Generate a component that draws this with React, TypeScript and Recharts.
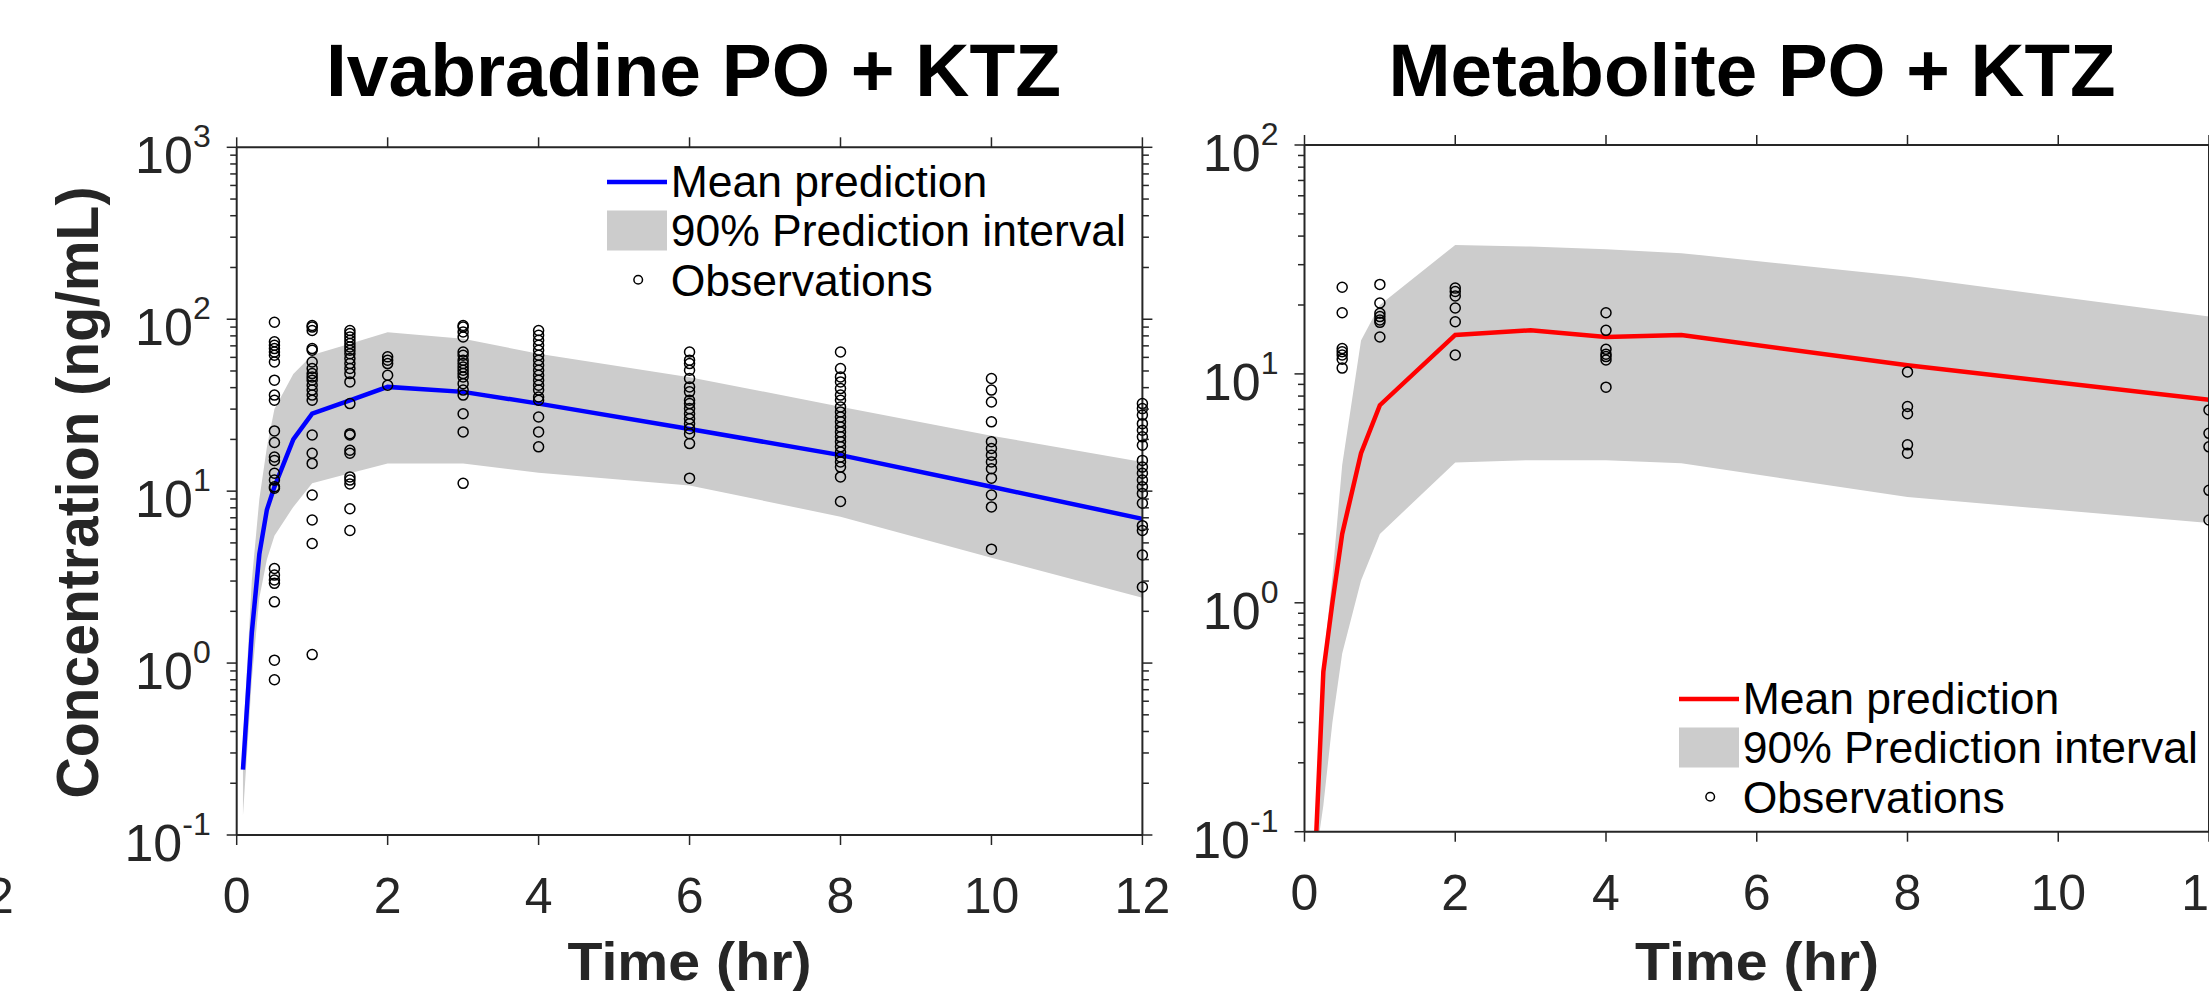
import React from 'react';
import { ComposedChart, Line, Area, Scatter, XAxis, YAxis, Legend } from 'recharts';

const FONT = '"Liberation Sans", Arial, Helvetica, sans-serif';
const INK = '#262626';
const BAND = '#cccccc';

// ---------- text ----------
const ivaTitle = 'Ivabradine PO + KTZ';
const metTitle = 'Metabolite PO + KTZ';
const xLabel = 'Time (hr)';
const yLabel = 'Concentration (ng/mL)';
const legendNames = ['Mean prediction', '90% Prediction interval', 'Observations'];

// ---------- ticks ----------
const xTicks = [0, 2, 4, 6, 8, 10, 12];
const ivaYMajor = [0.1, 1, 10, 100, 1000];
const metYMajor = [0.1, 1, 10, 100];

// ---------- Ivabradine (left panel) ----------
const ivaTimes = [0.083, 0.2, 0.3, 0.4, 0.5, 0.75, 1, 1.5, 2, 3, 4, 6, 8, 10, 12];
const ivaMean = [0.24, 1.5, 4.3, 7.8, 10.6, 20, 28.2, 33.7, 40.4, 37.8, 32.3, 23, 16.2, 10.6, 6.9];
const ivaLower = [0.13, 0.8, 2.4, 4.0, 5.5, 8.1, 11.1, 12.7, 14.5, 14.5, 12.8, 10.8, 7.1, 4.1, 2.4];
const ivaUpper = [0.35, 3, 9, 18, 30, 48, 62, 72, 84, 77, 63, 46, 31, 21, 14.8];

const ivaObsTimes = [0.5, 1, 1.5, 2, 3, 4, 6, 8, 10, 12];
const ivaObsValues = [
  [96, 74, 70.6, 67.5, 64.5, 61.7, 56.4, 44.2, 36.2, 33.8, 22.4, 19.2, 15.8, 15.1, 12.7, 11.6, 10.6, 10.4, 3.55, 3.25, 3.04, 2.91, 2.27, 1.04, 0.8],
  [92, 90, 86, 67.5, 66, 56.4, 51.7, 48.3, 46.2, 44.2, 41.3, 38.7, 36.2, 33.8, 21.2, 16.6, 14.5, 9.5, 6.8, 4.96, 1.12],
  [86, 82.6, 78.9, 75.5, 72.2, 69, 66, 63, 59, 55.2, 51.7, 48.3, 43.2, 32.3, 21.6, 21.2, 17.3, 16.6, 12.1, 11.6, 11.0, 7.9, 5.9],
  [60.4, 57.8, 55.2, 47.2, 41.3],
  [92, 90, 84.4, 78.9, 64.5, 61.7, 57.8, 55.2, 52.7, 50.5, 48.3, 46.2, 42.2, 38.7, 36.2, 28.2, 22.1, 11.1],
  [86, 80.7, 75.5, 70.6, 66, 61.7, 57.8, 54, 50.5, 47.2, 44.2, 41.3, 38.7, 35.3, 33.8, 27, 22.1, 18.1],
  [64.5, 57.8, 55.2, 50.5, 45.2, 40.4, 37.8, 33.8, 32.3, 30.2, 28.2, 26.4, 24.7, 23.1, 21.6, 18.9, 11.9],
  [64.5, 51.7, 46.2, 43.2, 39.5, 36.2, 33.8, 30.9, 28.9, 27, 25.3, 23.6, 22.1, 20.7, 19.4, 18.1, 16.9, 15.8, 14.8, 13.8, 12.1, 8.7],
  [45.2, 38.7, 33, 25.3, 19.4, 17.7, 16.2, 14.8, 13.5, 11.9, 9.5, 8.1, 4.6],
  [32.3, 30.2, 27.7, 24.7, 22.6, 20.7, 18.5, 15.1, 13.8, 12.7, 11.6, 10.6, 9.7, 8.5, 6.3, 5.9, 4.25, 2.77],
];

// ---------- Metabolite (right panel) ----------
const metTimes = [0.157, 0.2, 0.25, 0.37, 0.5, 0.75, 1, 2, 3, 4, 5, 8, 12];
const metMean = [0.1, 0.21, 0.5, 1.0, 2.0, 4.5, 7.3, 14.8, 15.5, 14.5, 14.8, 10.9, 7.7];
const metLower = [0.1, 0.1, 0.13, 0.3, 0.6, 1.25, 2.0, 4.1, 4.2, 4.2, 4.07, 2.9, 2.23];
const metUpper = [0.1, 0.22, 0.55, 1.3, 4, 14, 20, 36.6, 36, 35, 33.7, 26.6, 17.8];

const metObsTimes = [0.5, 1, 2, 4, 8, 12];
const metObsValues = [
  [23.9, 18.5, 12.9, 12.5, 12.1, 11.6, 10.6],
  [24.6, 20.4, 18.4, 17.8, 17.2, 16.8, 14.5],
  [23.7, 22.9, 21.9, 19.4, 16.9, 12.1],
  [18.5, 15.5, 12.8, 12.2, 11.9, 11.5, 8.75],
  [10.2, 7.2, 6.7, 4.9, 4.5],
  [6.96, 5.5, 4.8, 3.1, 2.3],
];

// ---------- derived tables ----------
function withMinors(majors: number[]) {
  const out: number[] = [];
  majors.forEach((m, i) => {
    out.push(m);
    if (i < majors.length - 1) {
      for (let k = 2; k <= 9; k++) out.push(Number((m * k).toPrecision(3)));
    }
  });
  return out;
}

const buildCurve = (times: number[], mean: number[], lo: number[], hi: number[]) =>
  times.map((t, i) => ({ t, mean: mean[i], band: [lo[i], hi[i]] }));
const buildObs = (times: number[], values: number[][]) =>
  times.flatMap((t, i) => values[i].map((v) => ({ t, v })));

const ivaCurve = buildCurve(ivaTimes, ivaMean, ivaLower, ivaUpper);
const ivaObs = buildObs(ivaObsTimes, ivaObsValues);
const metCurve = buildCurve(metTimes, metMean, metLower, metUpper);
const metObs = buildObs(metObsTimes, metObsValues);

// ---------- tick renderers ----------
const isMajor = (v: number) => {
  const l = Math.log10(v);
  return Math.abs(l - Math.round(l)) < 1e-6;
};

const LeftYTick = (props: any) => {
  const { x, y, payload } = props;
  const v = payload.value;
  const major = isMajor(v);
  const len = major ? 10 : 6.5;
  const exp = Math.round(Math.log10(v));
  return (
    <g>
      <line x1={x - len} x2={x} y1={y} y2={y} stroke={INK} strokeWidth={1.5} />
      {major && (
        <text x={x - 26} y={y + 26} textAnchor="end" fontFamily={FONT} fontSize={52} fill={INK}>
          10
          <tspan dy={-26} fontSize={32}>
            {String(exp)}
          </tspan>
        </text>
      )}
    </g>
  );
};

const RightYTick = (props: any) => {
  const { x, y, payload } = props;
  const len = isMajor(payload.value) ? 10 : 6.5;
  return <line x1={x} x2={x + len} y1={y} y2={y} stroke={INK} strokeWidth={1.5} />;
};

const BottomXTick = (props: any) => {
  const { x, y, payload } = props;
  return (
    <g>
      <line x1={x} x2={x} y1={y} y2={y + 10} stroke={INK} strokeWidth={1.5} />
      <text x={x} y={y + 78} textAnchor="middle" fontFamily={FONT} fontSize={50} fill={INK}>
        {String(payload.value)}
      </text>
    </g>
  );
};

const TopXTick = (props: any) => {
  const { x, y } = props;
  return <line x1={x} x2={x} y1={y} y2={y - 10} stroke={INK} strokeWidth={1.5} />;
};

const ObsShape = (props: any) => (
  <circle cx={props.cx} cy={props.cy} r={5} fill="none" stroke="#000" strokeWidth={1.5} />
);

// ---------- legend ----------
const makeLegend = (color: string) => () => (
  <svg width={560} height={170} style={{ overflow: 'visible', display: 'block' }}>
    <line x1={10} x2={70} y1={40} y2={40} stroke={color} strokeWidth={4.5} />
    <text x={73.7} y={55} fontFamily={FONT} fontSize={44.5} fill="#000">{legendNames[0]}</text>
    <rect x={10} y={68.5} width={60} height={40} fill={BAND} />
    <text x={73.7} y={103.5} fontFamily={FONT} fontSize={44.5} fill="#000">{legendNames[1]}</text>
    <circle cx={41.2} cy={137.7} r={4.3} fill="none" stroke="#000" strokeWidth={1.5} />
    <text x={73.7} y={153.5} fontFamily={FONT} fontSize={44.5} fill="#000">{legendNames[2]}</text>
  </svg>
);

type PanelProps = {
  left: number;
  width: number;
  yAxisWidth: number;
  margin: { top: number; right: number; bottom: number; left: number };
  curve: { t: number; mean: number; band: number[] }[];
  obs: { t: number; v: number }[];
  color: string;
  yDomain: [number, number];
  yTicks: number[];
  legendX0: number;
  legendY0: number;
};

const H = 992;
const axisLine = { stroke: INK, strokeWidth: 2 };

function Panel(p: PanelProps) {
  return (
    <div style={{ position: 'absolute', left: p.left, top: 0, width: p.width, height: H }}>
      <ComposedChart width={p.width} height={H} margin={p.margin} data={p.curve}>
        <XAxis
          xAxisId="x"
          type="number"
          dataKey="t"
          domain={[0, 12]}
          ticks={xTicks}
          interval={0}
          height={100}
          tickSize={0}
          tickMargin={0}
          tickLine={false}
          tick={BottomXTick}
          axisLine={axisLine}
        />
        <XAxis
          xAxisId="top"
          orientation="top"
          type="number"
          dataKey="t"
          domain={[0, 12]}
          allowDataOverflow
          ticks={xTicks}
          interval={0}
          height={20}
          tickSize={0}
          tickMargin={0}
          tickLine={false}
          tick={TopXTick}
          axisLine={axisLine}
        />
        <YAxis
          yAxisId="y"
          type="number"
          scale="log"
          domain={p.yDomain}
          ticks={p.yTicks}
          interval={0}
          width={p.yAxisWidth}
          tickSize={0}
          tickMargin={0}
          tickLine={false}
          tick={LeftYTick}
          axisLine={axisLine}
        />
        <YAxis
          yAxisId="right"
          orientation="right"
          type="number"
          scale="log"
          domain={p.yDomain}
          allowDataOverflow
          ticks={p.yTicks}
          interval={0}
          width={20}
          tickSize={0}
          tickMargin={0}
          tickLine={false}
          tick={RightYTick}
          axisLine={axisLine}
        />
        <Area
          xAxisId="x"
          yAxisId="y"
          name={legendNames[1]}
          type="linear"
          dataKey="band"
          stroke="none"
          fill={BAND}
          fillOpacity={1}
          dot={false}
          activeDot={false}
          isAnimationActive={false}
        />
        <Line
          xAxisId="x"
          yAxisId="y"
          name={legendNames[0]}
          type="linear"
          dataKey="mean"
          stroke={p.color}
          strokeWidth={4.5}
          dot={false}
          activeDot={false}
          isAnimationActive={false}
        />
        <Scatter
          xAxisId="x"
          yAxisId="y"
          name={legendNames[2]}
          data={p.obs}
          dataKey="v"
          shape={ObsShape}
          isAnimationActive={false}
        />
        <Legend
          layout="horizontal"
          verticalAlign="middle"
          align="center"
          content={makeLegend(p.color)}
          wrapperStyle={{
            position: 'absolute',
            left: p.legendX0 - 10 - p.left,
            top: p.legendY0 - 40,
            width: 560,
            height: 170,
            pointerEvents: 'none',
          }}
        />
      </ComposedChart>
    </div>
  );
}

export default function App() {
  return (
    <div
      style={{
        position: 'absolute',
        left: 0,
        top: 0,
        width: 2209,
        height: 992,
        overflow: 'hidden',
        background: '#ffffff',
      }}
    >
      <Panel
        left={0}
        width={1200}
        yAxisWidth={236.7}
        margin={{ top: 127.3, right: 37.6, bottom: 57, left: 0 }}
        curve={ivaCurve}
        obs={ivaObs}
        color="#0000ff"
        yDomain={[0.1, 1000]}
        yTicks={withMinors(ivaYMajor)}
        legendX0={606.7}
        legendY0={182.3}
      />
      <Panel
        left={1160}
        width={1100}
        yAxisWidth={144.5}
        margin={{ top: 125, right: 31, bottom: 60.3, left: 0 }}
        curve={metCurve}
        obs={metObs}
        color="#ff0000"
        yDomain={[0.1, 100]}
        yTicks={withMinors(metYMajor)}
        legendX0={1678.8}
        legendY0={699}
      />
      <svg
        width={2209}
        height={992}
        style={{ position: 'absolute', left: 0, top: 0, pointerEvents: 'none' }}
      >
        <text x={693.5} y={96} textAnchor="middle" fontFamily={FONT} fontWeight="bold" fontSize={74} fill="#000" textLength={735} lengthAdjust="spacingAndGlyphs">
          {ivaTitle}
        </text>
        <text x={1752} y={96} textAnchor="middle" fontFamily={FONT} fontWeight="bold" fontSize={74} fill="#000" textLength={727} lengthAdjust="spacingAndGlyphs">
          {metTitle}
        </text>
        <text x={689.5} y={980} textAnchor="middle" fontFamily={FONT} fontWeight="bold" fontSize={54} fill={INK} textLength={244} lengthAdjust="spacingAndGlyphs">
          {xLabel}
        </text>
        <text x={1757} y={980} textAnchor="middle" fontFamily={FONT} fontWeight="bold" fontSize={54} fill={INK} textLength={244} lengthAdjust="spacingAndGlyphs">
          {xLabel}
        </text>
        <text transform="translate(98, 492.5) rotate(-90)" x={0} y={0} textAnchor="middle" fontFamily={FONT} fontWeight="bold" fontSize={60} fill={INK} textLength={612} lengthAdjust="spacingAndGlyphs">
          {yLabel}
        </text>
        <text x={-14} y={913} textAnchor="middle" fontFamily={FONT} fontSize={50} fill={INK}>
          12
        </text>
      </svg>
    </div>
  );
}
